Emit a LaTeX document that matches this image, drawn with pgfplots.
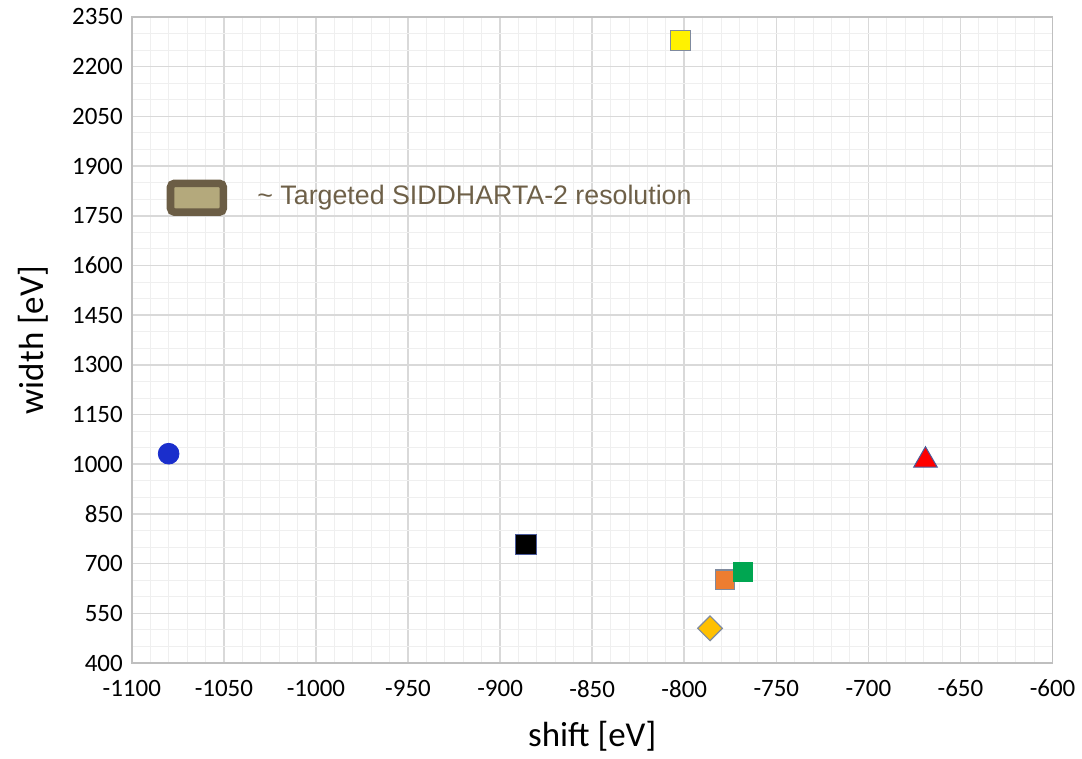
\documentclass[border=0pt]{standalone}
\usepackage{pgfplots}
\pgfplotsset{compat=1.18}
\usepackage{fontspec}
\setmainfont{Carlito}
\newfontfamily\notefont{Liberation Sans}
\definecolor{majgrid}{HTML}{D9D9D9}
\definecolor{mingrid}{HTML}{EFEFEF}
\definecolor{axisgray}{HTML}{BFBFBF}
\definecolor{resfill}{HTML}{B4A97C}
\definecolor{resedge}{HTML}{6B5D45}
\definecolor{restext}{HTML}{6E6048}
\definecolor{ptblue}{HTML}{1A2ECC}
\definecolor{ptorange}{HTML}{ED7D31}
\definecolor{ptgreen}{HTML}{00A651}
\definecolor{ptgold}{HTML}{FFC000}
\definecolor{ptedge}{HTML}{7F8A9E}
\definecolor{ptedgeblue}{HTML}{4A5A9A}
\begin{document}
\begin{tikzpicture}
\begin{axis}[
  scale only axis,
  width=461pt, height=323.5pt,
  xmin=-1100, xmax=-600, ymin=400, ymax=2350,
  xtick={-1100,-1050,...,-600},
  ytick={400,550,...,2350},
  minor x tick num=4, minor y tick num=2,
  grid=both,
  major grid style={draw=majgrid, line width=0.8pt},
  minor grid style={draw=mingrid, line width=0.5pt},
  axis line style={draw=axisgray, line width=0.8pt},
  tick style={draw=none},
  /pgf/number format/assume math mode=true,
  /pgf/number format/set thousands separator={},
  ticklabel style={font=\fontsize{12.5}{14}\selectfont},
  xticklabel style={yshift=-5pt},
  yticklabel style={xshift=-1pt},
  xlabel={shift [eV]}, ylabel={width [eV]},
  every axis x label/.style={at={(axis description cs:0.5,-0.114)}, anchor=center, font=\fontsize{17.5}{20}\selectfont},
  every axis y label/.style={at={(axis description cs:-0.107,0.5)}, rotate=90, anchor=center, font=\fontsize{17.5}{20}\selectfont},
  clip=false,
]
% resolution box
\addplot[draw=resedge, fill=resfill, line width=3.8pt, rounded corners=2pt]
  coordinates {(-1079,1761) (-1050.3,1761) (-1050.3,1848) (-1079,1848)} -- cycle;
\node[anchor=west, text=restext, font=\notefont\fontsize{13.4}{16}\selectfont, inner sep=0pt]
  at (axis cs:-1032,1804) {\textasciitilde\ Targeted SIDDHARTA-2 resolution};

% measurements
\addplot[only marks, mark=*, mark size=5.2pt, mark options={fill=ptblue, draw=ptblue}]
  coordinates {(-1080,1032)};
\addplot[only marks, mark=square*, mark size=5pt, mark options={fill=yellow, draw=ptedge, line width=0.6pt}]
  coordinates {(-802,2280)};
\addplot[only marks, mark=square*, mark size=5.1pt, mark options={fill=black, draw=ptedgeblue, line width=0.5pt}]
  coordinates {(-886,758)};
\addplot[only marks, mark=square*, mark size=4.8pt, mark options={fill=ptorange, draw=ptedge, line width=0.6pt}]
  coordinates {(-778,652)};
\addplot[only marks, mark=square*, mark size=4.8pt, mark options={fill=ptgreen, draw=ptgreen}]
  coordinates {(-768,676)};
\addplot[only marks, mark=diamond*, mark size=6.2pt, mark options={fill=ptgold, draw=ptedge, line width=0.6pt, xscale=1.33}]
  coordinates {(-786,505)};
\addplot[only marks, mark=triangle*, mark size=6.8pt, mark options={fill=red, draw=ptedgeblue, line width=0.5pt}]
  coordinates {(-669,1012)};
\end{axis}
\path (current axis.south west) ++(-66pt,-46pt);
\path (current axis.north east) ++(14pt,8.5pt);
\end{tikzpicture}
\end{document}
